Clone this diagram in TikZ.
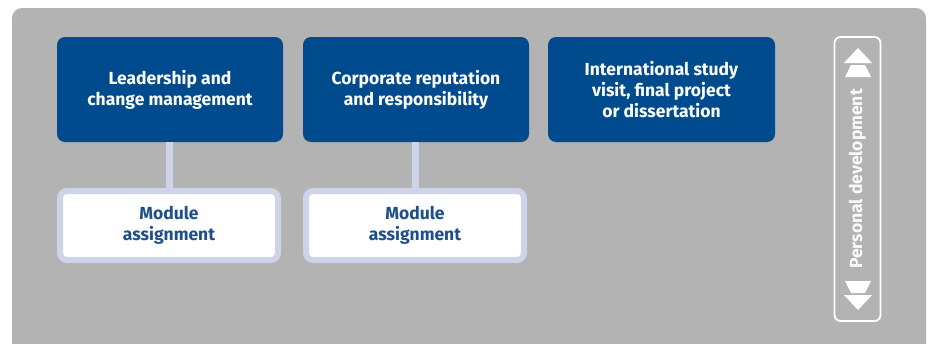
\documentclass[tikz,border=0pt]{standalone}
\usepackage{fontspec}
\setmainfont{Fira Sans}
\begin{document}
\begin{tikzpicture}[x=1pt,y=-1pt,
  blue/.style={fill=boxblue, rounded corners=8pt, text=white, font=\bfseries\fontsize{17.5}{21}\selectfont, align=center, inner sep=0pt},
  modbox/.style={fill=white, draw=linkblue, line width=6pt, rounded corners=7pt, text=textblue, font=\bfseries\fontsize{17.5}{21}\selectfont, align=center, inner sep=0pt},
  link/.style={draw=linkblue, line width=7pt},
  tri/.style={fill=white, draw=none}]
\definecolor{boxblue}{HTML}{004B8D}
\definecolor{linkblue}{HTML}{CDD3E8}
\definecolor{textblue}{HTML}{1F4E8C}
\definecolor{bggray}{HTML}{B3B3B3}
\useasboundingbox (0,0) rectangle (928,343);
\fill[bggray, rounded corners=10pt] (12,8) rectangle (926,360);
% blue boxes
\node[blue, minimum width=226pt, minimum height=105pt] (b1) at (170,89.5) {Leadership and\\change management};
\node[blue, minimum width=226pt, minimum height=105pt] (b2) at (416,89.5) {Corporate reputation\\and responsibility};
\node[blue, minimum width=227pt, minimum height=105pt] (b3) at (661.5,89.5) {International study\\visit, final project\\or dissertation};
% module boxes
\node[modbox, minimum width=218pt, minimum height=69pt] (m1) at (169,225.5) {Module\\assignment};
\node[modbox, minimum width=218pt, minimum height=69pt] (m2) at (415,225.5) {Module\\assignment};
\path[link] (b1.south -| m1.north) -- (m1.north);
\path[link] (b2.south -| m2.north) -- (m2.north);
% personal development column
\node[draw=white, line width=1.8pt, rounded corners=6pt, minimum width=46pt, minimum height=284pt, inner sep=0pt] (pd) at (857.5,179) {};
\node[rotate=90, text=white!95!gray, font=\bfseries\fontsize{17.5}{20}\selectfont, inner sep=0pt] (pdt) at (pd.center) {Personal development};
\fill[tri] (844,63) -- (858,48) -- (872,63) -- cycle;
\fill[tri] (845,77) -- (851,65) -- (865,65) -- (871,77) -- cycle;
\fill[tri] (845,281) -- (871,281) -- (865,293) -- (851,293) -- cycle;
\fill[tri] (844,295) -- (872,295) -- (858,310) -- cycle;
\end{tikzpicture}
\end{document}
